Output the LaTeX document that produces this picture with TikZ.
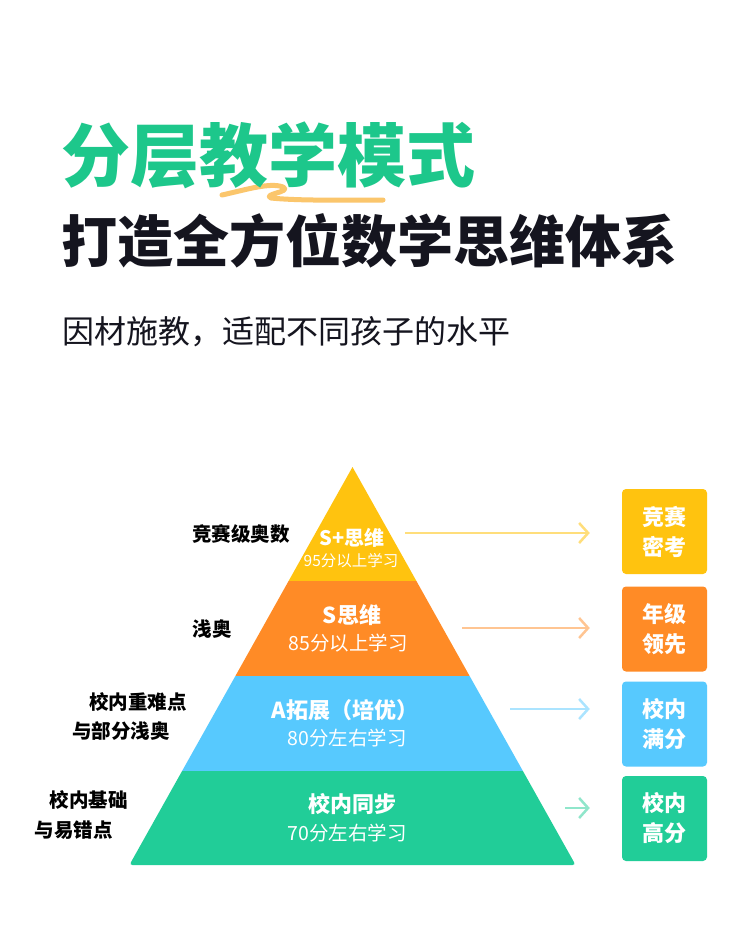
\documentclass[tikz,border=0pt]{standalone}
\usepackage{fontspec}
\setmainfont{Noto Sans CJK SC}
\usetikzlibrary{arrows.meta}
\definecolor{titlegreen}{HTML}{1DC78B}
\definecolor{inkdark}{HTML}{15151F}
\definecolor{layeryellow}{HTML}{FFC30F}
\definecolor{layerorange}{HTML}{FF8B26}
\definecolor{layerblue}{HTML}{57C9FE}
\definecolor{layergreen}{HTML}{21CD98}
\definecolor{squiggle}{HTML}{FBC66C}

\begin{document}
\begin{tikzpicture}[x=1pt, y=-1pt,
                    layer_title/.style={text=white, font=\bfseries\fontsize{22}{26}\selectfont},
                    layer_note/.style={text=white, font=\fontsize{19.5}{23}\selectfont},
                    side_label/.style={anchor=east, inner sep=0pt, font=\bfseries\fontsize{19.5}{23}\selectfont},
                    goal_box/.style={rounded corners=4pt, minimum width=85pt, minimum height=85pt, text=white, align=center, font=\bfseries\fontsize{22}{30}\selectfont},
                    level_arrow/.style={line width=2.5pt, -{Straight Barb[length=9pt,width=20pt]}, shorten >=32pt}
                ]
                    \fill[white] (0,0) rectangle (750,951);
                    \useasboundingbox (0,0) rectangle (750,951);

                    % headline
                    \draw[squiggle, line width=5pt, line cap=round, line join=round]
                        (222,195) .. controls (245,190) and (270,182) .. (283,187)
                        .. controls (292,192) and (262,194) .. (271,198)
                        .. controls (300,201) and (350,200) .. (383,200);
                    \node[anchor=west, inner sep=0pt, text=titlegreen, font=\bfseries\fontsize{69}{80}\selectfont] (main_title) at (61,155) {分层教学模式};
                    \node[anchor=west, inner sep=0pt, text=inkdark, font=\bfseries\fontsize{56}{64}\selectfont] (sub_title) at (61,241) {打造全方位数学思维体系};
                    \node[anchor=west, inner sep=0pt, text=inkdark, font=\fontsize{32}{38}\selectfont] (tag_line) at (62,332) {因材施教，适配不同孩子的水平};

                    % pyramid
                    \fill[layeryellow] (352.5,467) -- (416.4,581) -- (288.6,581) -- cycle;
                    \fill[layerorange] (288.6,581) -- (416.4,581) -- (469.6,676) -- (235.4,676) -- cycle;
                    \fill[layerblue] (235.4,676) -- (469.6,676) -- (522.9,771) -- (182.1,771) -- cycle;
                    \fill[layergreen] (182.1,771) [rounded corners=3pt] -- (129.4,865) -- (575.6,865) [sharp corners] -- (522.9,771) -- cycle;

                    \node[layer_title, font=\bfseries\fontsize{20}{24}\selectfont] (splus_title) at (352,538) {S+思维};
                    \node[layer_note, font=\fontsize{15.5}{18}\selectfont] (splus_note) at (351,561) {95分以上学习};
                    \node[layer_title] (s_title) at (352,615) {S思维};
                    \node[layer_note] (s_note) at (348,643) {85分以上学习};
                    \node[layer_title] (a_title) at (345,710) {A拓展（培优）};
                    \node[layer_note] (a_note) at (347,738) {80分左右学习};
                    \node[layer_title] (base_title) at (352,804) {校内同步};
                    \node[layer_note] (base_note) at (347,833) {70分左右学习};

                    % side labels
                    \node[side_label] (splus_side) at (290,534) {竞赛级奥数};
                    \node[side_label] (s_side) at (232,629) {浅奥};
                    \node[side_label] (a_side_one) at (187,702) {校内重难点};
                    \node[side_label] (a_side_two) at (170,731) {与部分浅奥};
                    \node[side_label] (base_side_one) at (128,800) {校内基础};
                    \node[side_label] (base_side_two) at (113,830) {与易错点};

                    % goals
                    \node[goal_box, fill=layeryellow] (splus_goal) at (664.5,531.5) {竞赛\\密考};
                    \node[goal_box, fill=layerorange] (s_goal) at (664.5,629) {年级\\领先};
                    \node[goal_box, fill=layerblue] (a_goal) at (664.5,724) {校内\\满分};
                    \node[goal_box, fill=layergreen] (base_goal) at (664.5,818.5) {校内\\高分};

                    \coordinate (splus_from) at (405,533);
                    \coordinate (s_from) at (462,628);
                    \coordinate (a_from) at (510,709);
                    \coordinate (base_from) at (565,808);
                    \draw[level_arrow, color=layeryellow!55] (splus_from) -- (splus_from -| splus_goal.west);
                    \draw[level_arrow, color=layerorange!50] (s_from) -- (s_from -| s_goal.west);
                    \draw[level_arrow, color=layerblue!50] (a_from) -- (a_from -| a_goal.west);
                    \draw[level_arrow, color=layergreen!50] (base_from) -- (base_from -| base_goal.west);
                \end{tikzpicture}
\end{document}
